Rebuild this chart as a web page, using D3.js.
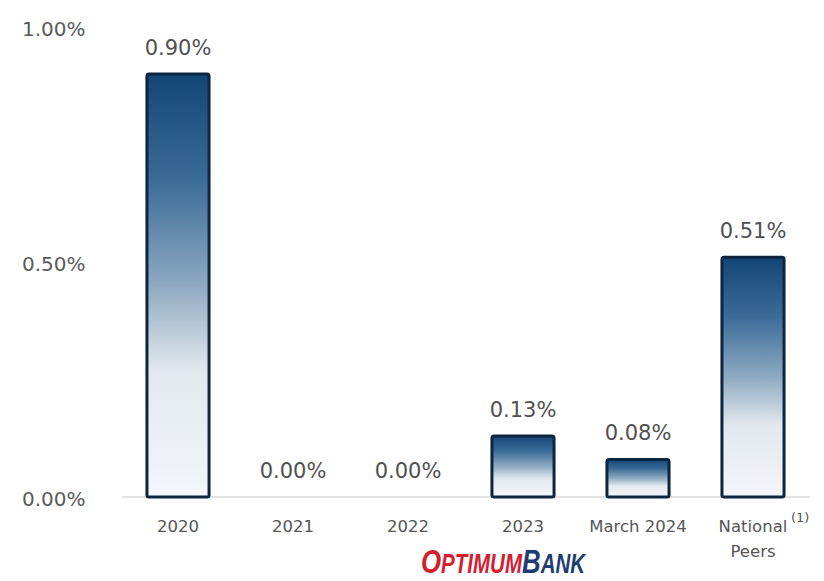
<!DOCTYPE html>
<html>
<head>
<meta charset="utf-8">
<script src="https://cdn.jsdelivr.net/npm/d3@7"></script>
<style>
  html, body { margin: 0; padding: 0; background: #ffffff; }
  svg { display: block; }
</style>
</head>
<body>
<svg id="chart" width="824" height="581"></svg>
<script>
// NPA ratio by period
const categories = ["2020", "2021", "2022", "2023", "March 2024", "National Peers"];
const values = [0.90, 0.00, 0.00, 0.13, 0.08, 0.51];
const yTicks = [0, 0.5, 1.0];

const svg = d3.select("#chart");
const font = "'DejaVu Sans', Verdana, sans-serif";

const x = d3.scaleBand().domain(categories).range([120.5, 810.5]).paddingInner(0.46).paddingOuter(0.23);
const y = d3.scaleLinear().domain([0, 1.0]).range([497, 27]);

// vertical fill: dark navy at the top fading to near white
const defs = svg.append("defs");
const grad = defs.append("linearGradient")
  .attr("id", "barFill").attr("x1", 0).attr("y1", 0).attr("x2", 0).attr("y2", 1);
[["0%", "#124676"], ["25%", "#3b6c98"], ["50%", "#8eaac2"], ["70%", "#e2e8ee"], ["100%", "#f3f6fa"]]
  .forEach(([o, c]) => grad.append("stop").attr("offset", o).attr("stop-color", c));

// baseline
svg.append("line")
  .attr("x1", 122).attr("x2", 810)
  .attr("y1", y(0)).attr("y2", y(0))
  .attr("stroke", "#d9d9d9").attr("stroke-width", 1.5);

// y tick labels
svg.append("g").selectAll("text").data(yTicks).join("text")
  .attr("x", 22).attr("y", d => y(d) + 9)
  .attr("font-family", font).attr("font-size", 20).attr("fill", "#5a5a5a")
  .text(d => d3.format(".2f")(d) + "%");

// bars
svg.append("g").selectAll("rect").data(categories.map((c, i) => ({ c, v: values[i] })).filter(d => d.v > 0))
  .join("rect")
  .attr("x", d => x(d.c)).attr("width", x.bandwidth())
  .attr("y", d => y(d.v)).attr("height", d => y(0) - y(d.v))
  .attr("rx", 2)
  .attr("fill", "url(#barFill)")
  .attr("stroke", "#0e2540").attr("stroke-width", 3);

// value labels
svg.append("g").selectAll("text").data(categories.map((c, i) => ({ c, v: values[i] })))
  .join("text")
  .attr("x", d => x(d.c) + x.bandwidth() / 2)
  .attr("y", d => y(d.v) - 19)
  .attr("text-anchor", "middle")
  .attr("font-family", font).attr("font-size", 21).attr("fill", "#505050")
  .text(d => d3.format(".2f")(d.v) + "%");

// category labels
const cat = svg.append("g")
  .attr("font-family", font).attr("font-size", 16.5).attr("fill", "#555");
categories.forEach(c => {
  const cx = x(c) + x.bandwidth() / 2;
  if (c === "National Peers") {
    cat.append("text").attr("x", cx).attr("y", 532)
      .attr("text-anchor", "middle").text("National");
    cat.append("text").attr("x", cx + 38).attr("y", 522)
      .attr("font-size", 13).text("(1)");
    cat.append("text").attr("x", cx).attr("y", 557)
      .attr("text-anchor", "middle").text("Peers");
  } else {
    cat.append("text").attr("x", cx).attr("y", 532)
      .attr("text-anchor", "middle").text(c);
  }
});

// brand mark, horizontally condensed
const logo = svg.append("g")
  .attr("transform", "translate(421,573) scale(0.76,1)")
  .append("text")
  .attr("font-family", "'Liberation Sans', Arial, sans-serif")
  .attr("font-weight", "bold").attr("font-style", "italic");
logo.append("tspan").attr("fill", "#d3202f").attr("font-size", 34).text("O");
logo.append("tspan").attr("fill", "#d3202f").attr("font-size", 27).text("PTIMUM");
logo.append("tspan").attr("fill", "#1f3d74").attr("font-size", 34).text("B");
logo.append("tspan").attr("fill", "#1f3d74").attr("font-size", 27).text("ANK");
</script>
</body>
</html>
